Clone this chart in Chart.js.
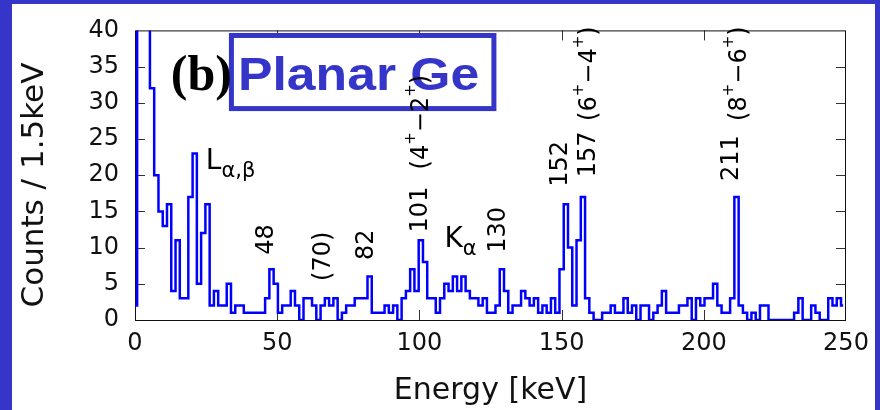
<!DOCTYPE html>
<html>
<head>
<meta charset="utf-8">
<script src="https://cdn.jsdelivr.net/npm/chart.js@4.4.1/dist/chart.umd.min.js"></script>
<style>
  html, body { margin: 0; padding: 0; background: #3535c9; overflow: hidden; }
  #panel { position: absolute; left: 12px; top: 4px; width: 863px; height: 406px; background: #fff; }
  #wrap { position: absolute; left: 0; top: 0; width: 880px; height: 410px; }
</style>
</head>
<body>
<div id="panel"></div>
<div id="wrap"><canvas id="spectrum" width="880" height="410"></canvas></div>
<script>
// Planar Ge spectrum, counts per 1.5 keV bin (bin i centred on i * 1.5 keV)
const BIN_KEV = 1.5;
const counts = [
  2, 60, 52, 45, 32, 20, 15, 13, 16, 4,
  11, 3, 3, 17, 23, 5, 12, 16, 2, 4,
  2, 2, 5, 1, 2, 2, 1, 1, 1, 1,
  1, 3, 7, 5, 1, 2, 2, 4, 2, 0,
  3, 3, 2, 0, 2, 3, 2, 3, 0, 1,
  2, 2, 3, 3, 3, 6, 1, 1, 1, 2,
  1, 2, 0, 3, 4, 7, 4, 11, 8, 3,
  3, 1, 3, 5, 4, 6, 4, 6, 4, 3,
  3, 2, 3, 1, 1, 2, 7, 4, 1, 2,
  2, 4, 3, 2, 3, 1, 2, 1, 3, 1,
  7, 16, 10, 2, 11, 17, 3, 1, 0, 0,
  1, 1, 2, 1, 1, 3, 1, 2, 0, 2,
  2, 0, 1, 2, 4, 1, 1, 1, 2, 2,
  3, 0, 3, 2, 3, 3, 5, 2, 1, 1,
  3, 17, 2, 1, 0, 1, 0, 2, 2, 0,
  0, 0, 0, 0, 0, 1, 3, 0, 0, 2,
  1, 0, 0, 3, 2, 3, 2
];
const energies = counts.map((_, i) => i * BIN_KEV);

const xTicks = [0, 50, 100, 150, 200, 250];
const yTicks = [0, 5, 10, 15, 20, 25, 30, 35, 40];

// peak energies, rotated, anchored at (keV, counts) of their first character
const peakLabels = [
  { e: 46.5, c: 9.0, text: '48' },
  { e: 66.4, c: 5.4, text: '(70)' },
  { e: 81.5, c: 8.3, text: '82' },
  { e: 100.5, c: 12.1, text: '101' },
  { e: 127.8, c: 9.3, text: '130' },
  { e: 149.6, c: 18.4, text: '152' },
  { e: 159.4, c: 19.7, text: '157' },
  { e: 210.0, c: 19.2, text: '211' }
];
const spinLabels = [
  { e: 100.8, c: 20.8, from: '4', to: '2' },
  { e: 159.9, c: 27.5, from: '6', to: '4' },
  { e: 212.6, c: 27.5, from: '8', to: '6' }
];
const xrayLabels = [
  { e: 24.9, c: 20.9, main: 'L', sub: 'α,β' },
  { e: 108.8, c: 10.1, main: 'K', sub: 'α' }
];
const panelTag = { e: 12.6, c: 31.8, text: '(b)' };
const detector = { e0: 33.9, e1: 126.2, c0: 29.2, c1: 39.3, te: 36.2, tc: 31.8, text: 'Planar Ge' };

const FONT = '"DejaVu Sans", sans-serif';
const BLUE = '#3535c9';

const framePlugin = {
  id: 'frame',
  beforeDatasetsDraw(chart) {
    const { ctx, chartArea: a, scales: { x, y } } = chart;
    ctx.save();
    ctx.strokeStyle = '#333';
    ctx.lineWidth = 1;
    ctx.beginPath();
    xTicks.slice(1, -1).forEach(v => {
      const px = Math.round(x.getPixelForValue(v)) + 0.5;
      ctx.moveTo(px, a.bottom); ctx.lineTo(px, a.bottom - 10);
      ctx.moveTo(px, a.top); ctx.lineTo(px, a.top + 10);
    });
    yTicks.slice(1, -1).forEach(v => {
      const py = Math.round(y.getPixelForValue(v)) + 0.5;
      ctx.moveTo(a.left, py); ctx.lineTo(a.left + 10, py);
      ctx.moveTo(a.right, py); ctx.lineTo(a.right - 10, py);
    });
    ctx.stroke();
    ctx.strokeStyle = '#111';
    ctx.strokeRect(a.left + 0.5, a.top + 0.5, a.right - a.left - 1, a.bottom - a.top);
    ctx.restore();
  }
};

function drawRotated(ctx, px, py, parts) {
  ctx.save();
  ctx.translate(px, py);
  ctx.rotate(-Math.PI / 2);
  ctx.textBaseline = 'middle';
  let pos = 0;
  parts.forEach(p => {
    ctx.font = p.font;
    ctx.fillText(p.text, pos, p.shift || 0);
    pos += ctx.measureText(p.text).width;
  });
  ctx.restore();
}

const labelPlugin = {
  id: 'labels',
  afterDatasetsDraw(chart) {
    const { ctx, scales: { x, y } } = chart;
    ctx.save();

    // detector box first, the spin labels overlap it
    const bx0 = x.getPixelForValue(detector.e0), bx1 = x.getPixelForValue(detector.e1);
    const by0 = y.getPixelForValue(detector.c1), by1 = y.getPixelForValue(detector.c0);
    ctx.fillStyle = '#fff';
    ctx.fillRect(bx0, by0, bx1 - bx0, by1 - by0);
    ctx.strokeStyle = BLUE;
    ctx.lineWidth = 5;
    ctx.strokeRect(bx0, by0, bx1 - bx0, by1 - by0);
    ctx.fillStyle = BLUE;
    ctx.save();
    ctx.translate(x.getPixelForValue(detector.te), y.getPixelForValue(detector.tc));
    ctx.scale(1.1, 1);
    ctx.font = 'bold 47px "Liberation Sans", Arial, sans-serif';
    ctx.fillText(detector.text, 0, 0);
    ctx.restore();

    ctx.fillStyle = '#000';
    ctx.font = 'bold 50px "Liberation Serif", serif';
    ctx.fillText(panelTag.text, x.getPixelForValue(panelTag.e), y.getPixelForValue(panelTag.c));

    const big = '24px ' + FONT, sup = '15px ' + FONT;
    peakLabels.forEach(l => {
      drawRotated(ctx, x.getPixelForValue(l.e), y.getPixelForValue(l.c), [{ text: l.text, font: big }]);
    });
    spinLabels.forEach(l => {
      drawRotated(ctx, x.getPixelForValue(l.e), y.getPixelForValue(l.c), [
        { text: '(' + l.from, font: big },
        { text: '+', font: sup, shift: -11 },
        { text: '\u2212' + l.to, font: big },
        { text: '+', font: sup, shift: -11 },
        { text: ')', font: big }
      ]);
    });

    ctx.textBaseline = 'alphabetic';
    xrayLabels.forEach(l => {
      const px = x.getPixelForValue(l.e), py = y.getPixelForValue(l.c);
      ctx.font = '28px ' + FONT;
      ctx.fillText(l.main, px, py);
      const w = ctx.measureText(l.main).width;
      ctx.font = '21px ' + FONT;
      ctx.fillText(l.sub, px + w, py + 8);
    });
    ctx.restore();
  }
};

Chart.defaults.font.family = FONT;
Chart.defaults.color = '#000';

new Chart(document.getElementById('spectrum'), {
  type: 'line',
  data: {
    datasets: [{
      label: 'Planar Ge',
      data: energies.map((e, i) => ({ x: e, y: counts[i] })),
      stepped: 'middle',
      borderColor: '#0000ff',
      borderWidth: 2.5,
      pointRadius: 0,
      fill: false,
      clip: 0
    }]
  },
  options: {
    responsive: false,
    animation: false,
    events: [],
    layout: { padding: { left: 0, top: 22, right: 34, bottom: 0 } },
    plugins: { legend: { display: false }, tooltip: { enabled: false } },
    scales: {
      x: {
        type: 'linear',
        min: 0,
        max: 250,
        afterBuildTicks: s => { s.ticks = xTicks.map(v => ({ value: v })); },
        afterFit: s => { s.height = 90; },
        grid: { display: false, drawTicks: false },
        border: { display: false },
        ticks: { font: { size: 24 }, padding: 9, maxRotation: 0, color: '#111' },
        title: { display: true, text: 'Energy [keV]', font: { size: 30 }, padding: { top: 0, bottom: 1 }, color: '#111' }
      },
      y: {
        min: 0,
        max: 40,
        afterBuildTicks: s => { s.ticks = yTicks.map(v => ({ value: v })); },
        afterFit: s => { s.width = 135; },
        grid: { display: false, drawTicks: false },
        border: { display: false },
        ticks: { font: { size: 24 }, padding: 16, color: '#111' },
        title: { display: true, text: 'Counts / 1.5keV  ', font: { size: 31 }, padding: { top: 16, bottom: 0 }, color: '#111' }
      }
    }
  },
  plugins: [framePlugin, labelPlugin]
});
</script>
</body>
</html>
